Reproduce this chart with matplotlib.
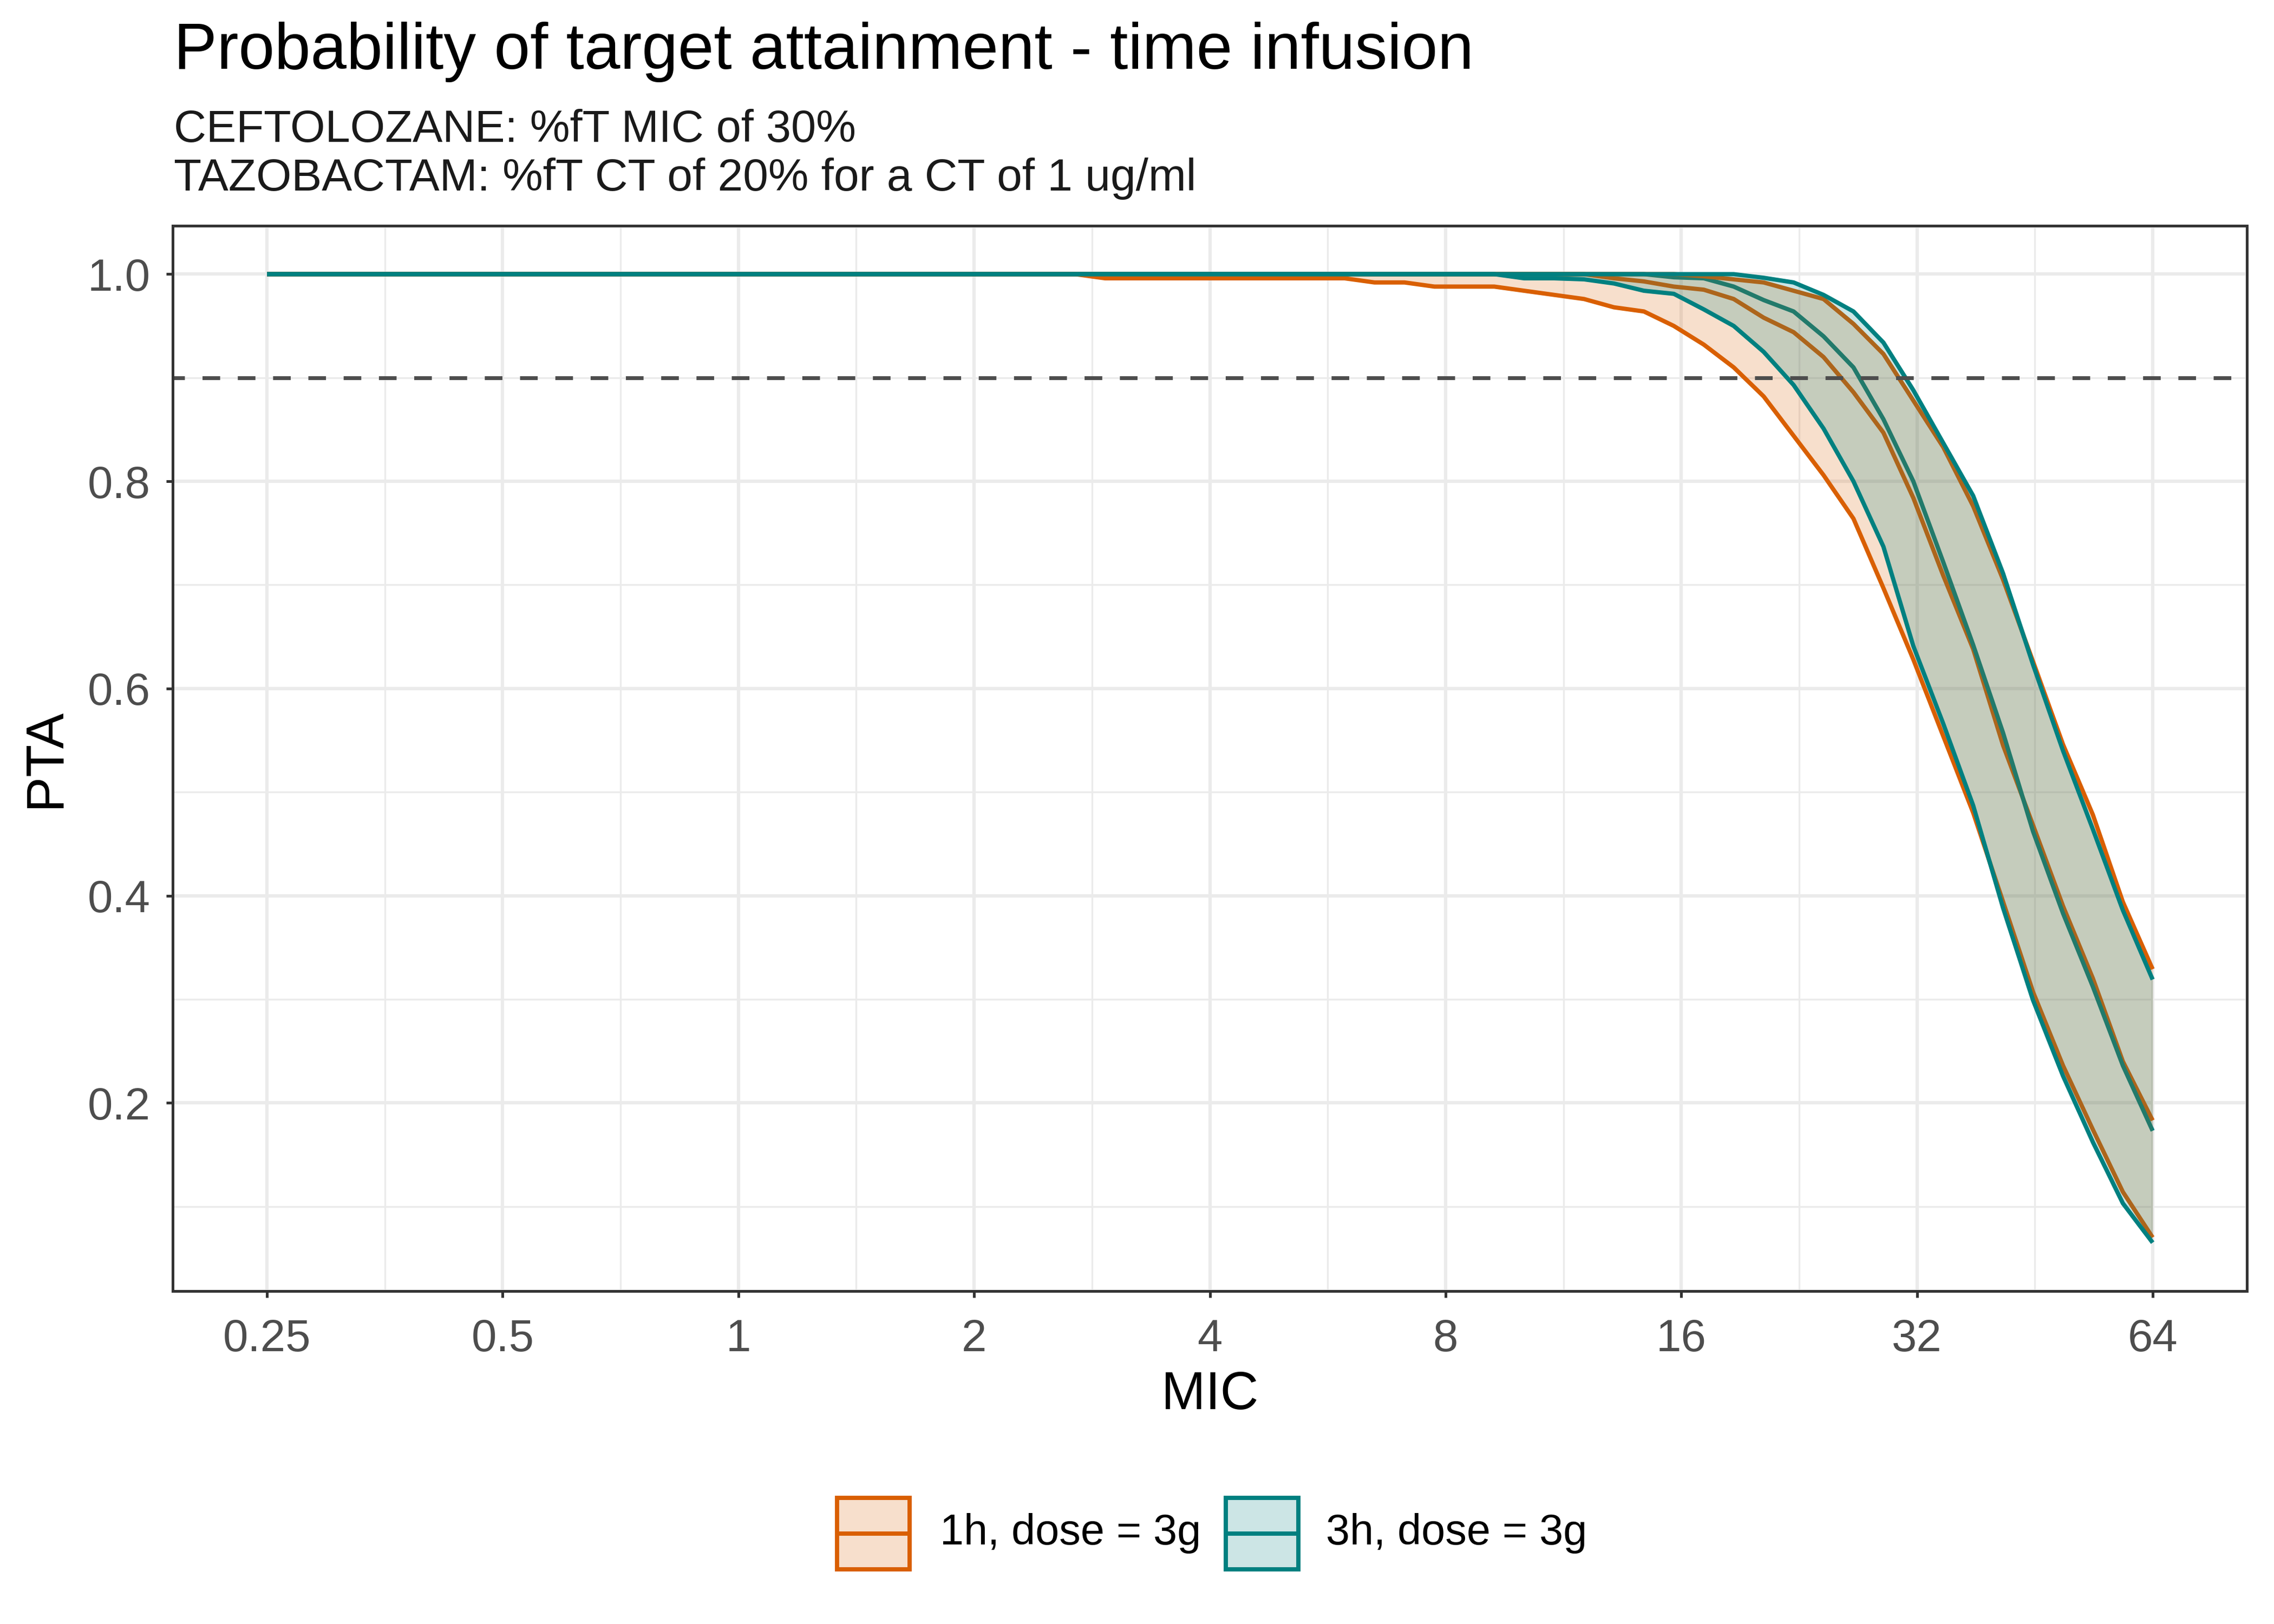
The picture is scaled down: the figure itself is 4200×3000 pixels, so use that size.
import numpy as np
import matplotlib
matplotlib.use("Agg")
import matplotlib.pyplot as plt
from matplotlib.patches import Rectangle
from matplotlib.lines import Line2D

plt.rcParams['font.family'] = ['Liberation Sans', 'DejaVu Sans']

# ---------------- data ----------------
mic = [0.25, 0.2730, 0.2981, 0.3256, 0.3555, 0.3882, 0.4240, 0.4630,
       0.5056, 0.5521, 0.6029, 0.6584, 0.7190, 0.7851, 0.8574, 0.9363,
       1.0224, 1.1165, 1.2192, 1.3314, 1.4539, 1.5877, 1.7338, 1.8933,
       2.0675, 2.2578, 2.4655, 2.6924, 2.9401, 3.2107, 3.5061, 3.8287,
       4.1810, 4.5657, 4.9858, 5.4446, 5.9456, 6.4926, 7.0900, 7.7424,
       8.4548, 9.2328, 10.0824, 11.0101, 12.0232, 13.1295, 14.3376, 15.6569,
       17.0975, 18.6708, 20.3888, 22.2648, 24.3135, 26.5507, 28.9937, 31.6616,
       34.5749, 37.7563, 41.2305, 45.0243, 49.1672, 53.6913, 58.6317, 64.0]

pta_1h_lower = [1.0, 1.0, 1.0, 1.0, 1.0, 1.0, 1.0, 1.0,
                1.0, 1.0, 1.0, 1.0, 1.0, 1.0, 1.0, 1.0,
                1.0, 1.0, 1.0, 1.0, 1.0, 1.0, 1.0, 1.0,
                1.0, 1.0, 1.0, 1.0, 0.996, 0.996, 0.996, 0.996,
                0.996, 0.996, 0.996, 0.996, 0.996, 0.992, 0.992, 0.988,
                0.988, 0.988, 0.984, 0.980, 0.976, 0.968, 0.964, 0.950,
                0.932, 0.910, 0.882, 0.844, 0.806, 0.764, 0.697, 0.628,
                0.554, 0.480, 0.394, 0.307, 0.236, 0.174, 0.114, 0.070]
pta_1h_median = [1.0, 1.0, 1.0, 1.0, 1.0, 1.0, 1.0, 1.0,
                 1.0, 1.0, 1.0, 1.0, 1.0, 1.0, 1.0, 1.0,
                 1.0, 1.0, 1.0, 1.0, 1.0, 1.0, 1.0, 1.0,
                 1.0, 1.0, 1.0, 1.0, 1.0, 1.0, 1.0, 1.0,
                 1.0, 1.0, 1.0, 1.0, 1.0, 1.0, 1.0, 1.0,
                 1.0, 1.0, 1.0, 1.0, 1.0, 0.996, 0.993, 0.988,
                 0.985, 0.976, 0.958, 0.944, 0.920, 0.886, 0.847, 0.784,
                 0.709, 0.638, 0.545, 0.468, 0.390, 0.320, 0.240, 0.183]
pta_1h_upper = [1.0, 1.0, 1.0, 1.0, 1.0, 1.0, 1.0, 1.0,
                1.0, 1.0, 1.0, 1.0, 1.0, 1.0, 1.0, 1.0,
                1.0, 1.0, 1.0, 1.0, 1.0, 1.0, 1.0, 1.0,
                1.0, 1.0, 1.0, 1.0, 1.0, 1.0, 1.0, 1.0,
                1.0, 1.0, 1.0, 1.0, 1.0, 1.0, 1.0, 1.0,
                1.0, 1.0, 1.0, 1.0, 1.0, 1.0, 1.0, 1.0,
                0.998, 0.995, 0.992, 0.984, 0.976, 0.952, 0.923, 0.878,
                0.833, 0.776, 0.705, 0.626, 0.546, 0.478, 0.394, 0.329]

pta_3h_lower = [1.0, 1.0, 1.0, 1.0, 1.0, 1.0, 1.0, 1.0,
                1.0, 1.0, 1.0, 1.0, 1.0, 1.0, 1.0, 1.0,
                1.0, 1.0, 1.0, 1.0, 1.0, 1.0, 1.0, 1.0,
                1.0, 1.0, 1.0, 1.0, 1.0, 1.0, 1.0, 1.0,
                1.0, 1.0, 1.0, 1.0, 1.0, 1.0, 1.0, 1.0,
                1.0, 1.0, 0.996, 0.996, 0.995, 0.991, 0.984, 0.981,
                0.966, 0.950, 0.925, 0.893, 0.851, 0.800, 0.737, 0.641,
                0.566, 0.487, 0.388, 0.299, 0.226, 0.162, 0.103, 0.065]
pta_3h_median = [1.0, 1.0, 1.0, 1.0, 1.0, 1.0, 1.0, 1.0,
                 1.0, 1.0, 1.0, 1.0, 1.0, 1.0, 1.0, 1.0,
                 1.0, 1.0, 1.0, 1.0, 1.0, 1.0, 1.0, 1.0,
                 1.0, 1.0, 1.0, 1.0, 1.0, 1.0, 1.0, 1.0,
                 1.0, 1.0, 1.0, 1.0, 1.0, 1.0, 1.0, 1.0,
                 1.0, 1.0, 1.0, 1.0, 1.0, 1.0, 1.0, 0.997,
                 0.996, 0.988, 0.975, 0.964, 0.940, 0.910, 0.860, 0.800,
                 0.722, 0.642, 0.557, 0.462, 0.383, 0.312, 0.236, 0.173]
pta_3h_upper = [1.0, 1.0, 1.0, 1.0, 1.0, 1.0, 1.0, 1.0,
                1.0, 1.0, 1.0, 1.0, 1.0, 1.0, 1.0, 1.0,
                1.0, 1.0, 1.0, 1.0, 1.0, 1.0, 1.0, 1.0,
                1.0, 1.0, 1.0, 1.0, 1.0, 1.0, 1.0, 1.0,
                1.0, 1.0, 1.0, 1.0, 1.0, 1.0, 1.0, 1.0,
                1.0, 1.0, 1.0, 1.0, 1.0, 1.0, 1.0, 1.0,
                1.0, 1.0, 0.9965, 0.992, 0.980, 0.964, 0.934, 0.888,
                0.837, 0.786, 0.711, 0.623, 0.540, 0.464, 0.386, 0.319]

target_pta = 0.9
x_ticks = [0.25, 0.5, 1, 2, 4, 8, 16, 32, 64]
x_tick_labels = ["0.25", "0.5", "1", "2", "4", "8", "16", "32", "64"]
y_ticks = [0.2, 0.4, 0.6, 0.8, 1.0]
y_tick_labels = ["0.2", "0.4", "0.6", "0.8", "1.0"]
series_labels = ["1h, dose = 3g", "3h, dose = 3g"]

title = "Probability of target attainment - time infusion"
subtitle1 = "CEFTOLOZANE: %fT MIC of 30%"
subtitle2 = "TAZOBACTAM: %fT CT of 20% for a CT of 1 ug/ml"

# ---------------- style ----------------
ORANGE = "#D95F02"
TEAL = "#008080"
GRID = "#EBEBEB"
DARK = "#333333"
TICKTXT = "#4D4D4D"
LW = 1.9

W, H = 4200, 3000
PL, PR, PT, PB = 319, 4150, 417, 2385
fig = plt.figure(figsize=(14, 10), dpi=300)
ax = fig.add_axes([PL / W, 1 - PB / H, (PR - PL) / W, (PB - PT) / H])
ax.set_xscale('log', base=2)

mic_a = np.array(mic)
allv = np.concatenate([pta_1h_lower, pta_1h_upper, pta_3h_lower, pta_3h_upper])
lo, hi = allv.min(), allv.max()
pad = 0.05 * (hi - lo)
ax.set_ylim(lo - pad, hi + pad)
lx0, lx1 = np.log2(mic_a.min()), np.log2(mic_a.max())
xpad = 0.05 * (lx1 - lx0)
ax.set_xlim(2 ** (lx0 - xpad), 2 ** (lx1 + xpad))

# grid
for xt in x_ticks:
    ax.axvline(xt, color=GRID, lw=1.5, zorder=0)
for xt in x_ticks[:-1]:
    ax.axvline(xt * np.sqrt(2), color=GRID, lw=0.8, zorder=0)
for yt in y_ticks:
    ax.axhline(yt, color=GRID, lw=1.5, zorder=0)
for yt in [0.1, 0.3, 0.5, 0.7, 0.9]:
    ax.axhline(yt, color=GRID, lw=0.8, zorder=0)

lkw = dict(lw=LW, solid_capstyle='butt', solid_joinstyle='round')
# medians (drawn beneath ribbons)
ax.plot(mic, pta_1h_median, color=ORANGE, zorder=2, **lkw)
ax.plot(mic, pta_3h_median, color=TEAL, zorder=2, **lkw)
# 1h ribbon
ax.fill_between(mic, pta_1h_lower, pta_1h_upper, color=ORANGE, alpha=0.2, lw=0, zorder=3)
ax.plot(mic, pta_1h_lower, color=ORANGE, zorder=3.1, **lkw)
ax.plot(mic, pta_1h_upper, color=ORANGE, zorder=3.1, **lkw)
# 3h ribbon
ax.fill_between(mic, pta_3h_lower, pta_3h_upper, color=TEAL, alpha=0.2, lw=0, zorder=4)
ax.plot(mic, pta_3h_lower, color=TEAL, zorder=4.1, **lkw)
ax.plot(mic, pta_3h_upper, color=TEAL, zorder=4.1, **lkw)

ax.axhline(target_pta, color="#4D4D4D", lw=1.7, ls=(1.5, (4.6, 4.6)), zorder=5)

ax.set_xticks(x_ticks)
ax.set_xticklabels(x_tick_labels)
ax.set_xticks([], minor=True)
ax.set_yticks(y_ticks)
ax.set_yticklabels(y_tick_labels)
ax.set_yticks([], minor=True)
ax.tick_params(axis='both', which='major', length=2.9, width=1.2, color=DARK,
               labelcolor=TICKTXT, labelsize=20)
ax.tick_params(axis='x', pad=9)
ax.tick_params(axis='y', pad=7)
for s in ax.spines.values():
    s.set_color(DARK)
    s.set_linewidth(1.2)
    s.set_zorder(6)

# axis titles
fig.text((PL + PR) / 2 / W, 1 - 2578 / H, "MIC", ha='center', va='center',
         fontsize=23.5, color='black')
fig.text(84 / W, 1 - 1400 / H, "PTA", ha='center', va='center', rotation=90,
         fontsize=23.5, color='black')

# titles
r = fig.canvas.get_renderer()
def fit(t, target):
    w = t.get_window_extent(r).width
    t.set_fontsize(t.get_fontsize() * target / w)

t0 = fig.text(321 / W, 1 - 127 / H, title, ha='left', va='baseline', fontsize=25, color='black')
t1 = fig.text(321 / W, 1 - 262 / H, subtitle1, ha='left', va='baseline', fontsize=20, color='#1A1A1A')
t2 = fig.text(321 / W, 1 - 352 / H, subtitle2, ha='left', va='baseline', fontsize=20, color='#1A1A1A')
fit(t0, 2400)
fit(t1, 1262)
fit(t2, 1892)

# legend
keys = [(1546, ORANGE, series_labels[0], 1736), (2264, TEAL, series_labels[1], 2449)]
ky0, ky1 = 2767, 2899
for kx, col, lab, tx in keys:
    kw = 134
    rect = Rectangle((kx / W, 1 - ky1 / H), kw / W, (ky1 - ky0) / H, transform=fig.transFigure,
                     facecolor=col, alpha=0.2, lw=0)
    fig.add_artist(rect)
    edge = Rectangle((kx / W, 1 - ky1 / H), kw / W, (ky1 - ky0) / H, transform=fig.transFigure,
                     facecolor='none', edgecolor=col, lw=LW)
    fig.add_artist(edge)
    ym = 1 - (ky0 + ky1) / 2 / H
    fig.add_artist(Line2D([kx / W, (kx + kw) / W], [ym, ym], transform=fig.transFigure,
                          color=col, lw=LW, solid_capstyle='butt'))
    fig.text(tx / W, ym, lab, ha='left', va='center', fontsize=19, color='black')

fig.savefig("out.png", dpi=300, facecolor='white')
